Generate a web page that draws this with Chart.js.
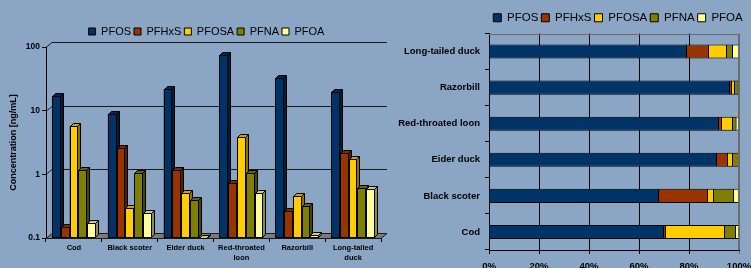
<!DOCTYPE html>
<html>
<head>
<meta charset="utf-8">
<script src="https://cdn.jsdelivr.net/npm/chart.js@4/dist/chart.umd.min.js"></script>
<style>
  html, body { margin: 0; padding: 0; overflow: hidden; background: #8ba5c5; }
  body { width: 751px; height: 268px; position: relative; }
  .box { position: absolute; top: 0; height: 268px; overflow: hidden; }
  #leftBox { left: 0; width: 390px; }
  #rightBox { left: 390px; width: 361px; }
</style>
</head>
<body>
<div class="box" id="leftBox"><canvas id="concChart" width="390" height="268"></canvas></div>
<div class="box" id="rightBox"><canvas id="shareChart" width="456" height="280"></canvas></div>
<script>
// compounds and colours
const compounds = ['PFOS', 'PFHxS', 'PFOSA', 'PFNA', 'PFOA'];
const colors = ['#003366', '#993300', '#ffcc00', '#808000', '#ffff99'];

// left chart: concentration in ng/mL (log scale)
const leftLabels = ['Cod', 'Black scoter', 'Elder duck', ['Red-throated', 'loon'], 'Razorbill', ['Long-tailed', 'duck']];
const concPFOS  = [17, 9, 22, 75, 33, 20];
const concPFHxS = [0.15, 2.6, 1.15, 0.72, 0.27, 2.2];
const concPFOSA = [5.8, 0.3, 0.5, 3.8, 0.46, 1.75];
const concPFNA  = [1.15, 1.05, 0.4, 1.05, 0.32, 0.6];
const concPFOA  = [0.17, 0.25, 0.1, 0.5, 0.11, 0.58];
const logTicks = [0.1, 1, 10, 100];

// right chart: share of total (%)
const rightLabels = ['Cod', 'Black scoter', 'Eider duck', 'Red-throated loon', 'Razorbill', 'Long-tailed duck'];
const pctPFOS  = [70, 68, 91.2, 92, 96.4, 79.2];
const pctPFHxS = [0.8, 19.6, 4.4, 1.2, 0.8, 8.8];
const pctPFOSA = [23.6, 2.4, 2, 4.4, 1.2, 7.2];
const pctPFNA  = [4.4, 8, 2.4, 1.4, 1.4, 2.4];
const pctPFOA  = [1.2, 2, 0, 1, 0.2, 2.4];

const FONT = 'Liberation Sans, Arial, sans-serif';
const depth = 3;            // bar 3d offset
const wallX = 6, wallY = 5; // back wall offset

function shade(hex, f) {
    const n = parseInt(hex.slice(1), 16);
    const r = Math.round(((n >> 16) & 255) * f);
    const g = Math.round(((n >> 8) & 255) * f);
    const b = Math.round((n & 255) * f);
    return `rgb(${r},${g},${b})`;
}

function poly(ctx, pts, fill) {
    ctx.beginPath();
    ctx.moveTo(pts[0][0], pts[0][1]);
    for (let i = 1; i < pts.length; i++) ctx.lineTo(pts[i][0], pts[i][1]);
    ctx.closePath();
    ctx.fillStyle = fill;
    ctx.fill();
    ctx.stroke();
}

// floor, back wall lines and 3d bars
const bars3d = {
    id: 'bars3d',
    beforeDatasetsDraw(chart) {
        const {ctx, chartArea: a, scales: {y}} = chart;
        ctx.save();
        ctx.lineWidth = 1;
        ctx.strokeStyle = '#1a1a1a';
        y.ticks.forEach(t => {
            const py = Math.round(y.getPixelForValue(t.value)) + 0.5;
            if (t.value === logTicks[0]) return;
            ctx.beginPath();
            ctx.moveTo(a.left, py);
            ctx.lineTo(a.left + wallX, py - wallY);
            ctx.lineTo(a.right + wallX, py - wallY);
            ctx.stroke();
        });
        const b = Math.round(a.bottom) + 0.5;
        poly(ctx, [[a.left, b], [a.left + wallX, b - wallY], [a.right + wallX, b - wallY], [a.right, b]], '#7a7a7a');
        ctx.restore();
    },
    afterDatasetsDraw(chart) {
        const {ctx} = chart;
        const metas = chart.data.datasets.map((d, i) => chart.getDatasetMeta(i));
        ctx.save();
        ctx.lineWidth = 1;
        ctx.strokeStyle = '#000';
        for (let j = 0; j < leftLabels.length; j++) {
            metas.forEach((meta, i) => {
                const el = meta.data[j];
                const {x, y, base, width} = el.getProps(['x', 'y', 'base', 'width'], true);
                const l = Math.round(x - width / 2) + 0.5;
                const r = Math.round(x + width / 2) - 0.5;
                const t = Math.round(y) + 0.5;
                const bt = Math.round(base) - 0.5;
                const c = colors[i];
                poly(ctx, [[l, t], [r, t], [r, bt], [l, bt]], c);
                poly(ctx, [[l, t], [l + depth, t - depth], [r + depth, t - depth], [r, t]], shade(c, 0.8));
                poly(ctx, [[r, t], [r + depth, t - depth], [r + depth, bt - depth], [r, bt]], shade(c, 0.55));
            });
        }
        ctx.restore();
    }
};

// gray top and right edge of the right plot
const plotEdge = {
    id: 'plotEdge',
    afterDatasetsDraw(chart) {
        const {ctx, chartArea: a} = chart;
        const t = Math.round(a.top) + 0.5;
        const r = Math.round(a.right) - 0.5;
        ctx.save();
        ctx.strokeStyle = '#6b6b6b';
        ctx.lineWidth = 1;
        ctx.beginPath();
        ctx.moveTo(a.left, t);
        ctx.lineTo(r, t);
        ctx.lineTo(r, a.bottom);
        ctx.stroke();
        ctx.restore();
    }
};

// right chart first
const pctSeries = [pctPFOS, pctPFHxS, pctPFOSA, pctPFNA, pctPFOA];
new Chart(document.getElementById('shareChart'), {
    type: 'bar',
    data: {
        labels: rightLabels,
        datasets: compounds.map((name, i) => ({
            label: name,
            data: pctSeries[i],
            backgroundColor: colors[i],
            borderColor: '#000',
            borderWidth: 1,
            categoryPercentage: 1,
            barPercentage: 0.39
        }))
    },
    options: {
        indexAxis: 'y',
        responsive: false,
        animation: false,
        devicePixelRatio: 1,
        layout: { padding: { left: 0, right: 0, top: 9, bottom: 0 } },
        plugins: {
            tooltip: { enabled: false },
            legend: {
                position: 'top',
                labels: { boxWidth: 8, boxHeight: 8, padding: 3, color: '#000', font: { family: FONT, size: 11.5 } }
            }
        },
        scales: {
            x: {
                stacked: true,
                min: 0,
                max: 100,
                ticks: { stepSize: 20, color: '#000', padding: 7, callback: v => v + '%', font: { family: FONT, size: 9.5, weight: 'bold' } },
                grid: { tickLength: 4, color: c => (c.tick && c.tick.value >= 100 ? '#6b6b6b' : '#000') },
                border: { color: '#000' },
                afterFit: s => { s.height = 30; }
            },
            y: {
                stacked: true,
                reverse: true,
                grid: { drawOnChartArea: false, tickLength: 4, color: '#000' },
                border: { color: '#000' },
                ticks: { color: '#000', padding: 5, font: { family: FONT, size: 9.5, weight: 'bold' } },
                afterFit: s => { s.width = 99; }
            },
            spacer: {
                type: 'linear',
                position: 'right',
                grid: { display: false },
                border: { display: false },
                ticks: { display: false },
                afterFit: s => { s.width = 107; }
            }
        }
    },
    plugins: [plotEdge]
});

const concSeries = [concPFOS, concPFHxS, concPFOSA, concPFNA, concPFOA];
new Chart(document.getElementById('concChart'), {
    type: 'bar',
    data: {
        labels: leftLabels,
        datasets: compounds.map((name, i) => ({
            label: name,
            data: concSeries[i],
            backgroundColor: colors[i],
            borderColor: '#000',
            borderWidth: 1,
            categoryPercentage: 0.79,
            barPercentage: 1
        }))
    },
    options: {
        responsive: false,
        animation: false,
        devicePixelRatio: 1,
        layout: { padding: { left: 23, right: 0, top: 23, bottom: 0 } },
        plugins: {
            tooltip: { enabled: false },
            legend: {
                position: 'top',
                labels: { boxWidth: 7, boxHeight: 7, padding: 3, color: '#000', font: { family: FONT, size: 11 } }
            }
        },
        scales: {
            x: {
                grid: { drawOnChartArea: false, tickLength: 4, color: '#000' },
                border: { color: '#000' },
                ticks: { color: '#000', padding: 1, maxRotation: 0, autoSkip: false, font: { family: FONT, size: 7.5, weight: 'bold', lineHeight: 1.3 } },
                afterFit: s => { s.height = 30; }
            },
            y: {
                type: 'logarithmic',
                min: 0.1,
                max: 100,
                afterBuildTicks: s => { s.ticks = logTicks.map(v => ({ value: v })); },
                grid: { drawOnChartArea: false, tickLength: 4, color: '#000' },
                border: { color: '#000' },
                ticks: { color: '#000', padding: 2, callback: v => String(v), font: { family: FONT, size: 8.5, weight: 'bold' } },
                title: { display: true, text: 'Concentration [ng/mL]', color: '#000', padding: { top: -14.4, bottom: 0 }, font: { family: FONT, size: 9, weight: 'bold' } },
                afterFit: s => { s.width = 23; }
            },
            spacer: {
                type: 'linear',
                position: 'right',
                grid: { display: false },
                border: { display: false },
                ticks: { display: false },
                afterFit: s => { s.width = 9; }
            }
        }
    },
    plugins: [bars3d]
});
</script>
</body>
</html>
